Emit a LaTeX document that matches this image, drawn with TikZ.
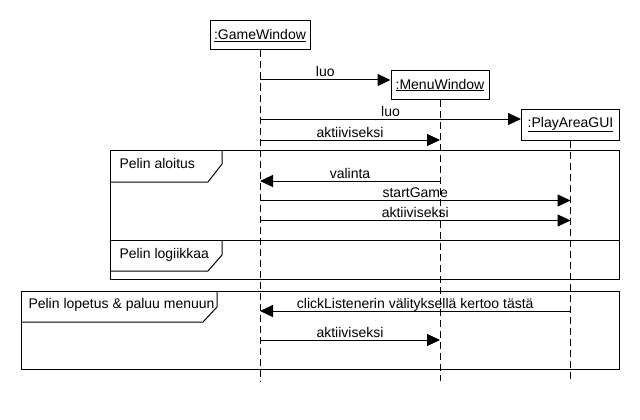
\documentclass[tikz,border=0pt]{standalone}
\usepackage{fontspec}
\setmainfont{Liberation Sans}
\usetikzlibrary{arrows.meta}
\begin{document}
\begin{tikzpicture}[x=1pt,y=-1pt,line width=1pt,
  font=\fontsize{14}{16}\selectfont,
  obj/.style={draw,fill=white,inner sep=0pt,minimum height=29pt},
  life/.style={dash pattern=on 7pt off 4pt},
  msg/.style={-{Triangle[length=13pt,width=12pt]}},
  lbl/.style={midway,anchor=base,yshift=3pt,inner sep=0pt},
  frm/.style={draw},
  flbl/.style={anchor=base west,inner sep=0pt}]
\fill[white] (0,0) rectangle (640,420);
\useasboundingbox (0,0) rectangle (640,420);

% frames
\draw[frm] (110,150) rectangle (619,279);
\draw[frm] (110,240) -- (619,240);
\draw[frm] (110,182) -- (208,182) -- (222,164) -- (222,150);
\draw[frm] (110,271) -- (208,271) -- (222,255) -- (222,240);
\draw[frm] (21,291) rectangle (619,369);
\draw[frm] (21,322) -- (203,322) -- (217,307) -- (217,291);
\node[flbl] (f1) at (119,168) {Pelin aloitus};
\node[flbl] (f2) at (119,258) {Pelin logiikkaa};
\node[flbl] (f3) at (28,308) {Pelin lopetus \& paluu menuun};

% objects
\node[obj,minimum width=100pt] (gw) at (260,35.5) {\underline{:GameWindow}};
\node[obj,minimum width=98pt] (mw) at (440,85) {\underline{:MenuWindow}};
\node[obj,minimum width=98pt,minimum height=31pt] (pa) at (570.5,124.5) {\underline{:PlayAreaGUI}};

% lifelines
\coordinate (gwE) at (260,381);
\coordinate (mwE) at (440,381);
\coordinate (paE) at (570.5,381);
\draw[life] (gw.south) -- (gwE);
\draw[life] (mw.south) -- (mwE);
\draw[life] (pa.south) -- (paE);

% message endpoints
\coordinate (a1) at (260,80);
\coordinate (a2) at (260,119);
\coordinate (a3) at (260,140);
\coordinate (b3) at (440,140);
\coordinate (a4) at (260,181);
\coordinate (b4) at (440,181);
\coordinate (a5) at (260,200.5);
\coordinate (c5) at (570.5,200.5);
\coordinate (a6) at (260,220.5);
\coordinate (c6) at (570.5,220.5);
\coordinate (a7) at (260,311);
\coordinate (c7) at (570.5,311);
\coordinate (a8) at (260,340);
\coordinate (b8) at (440,340);

\draw[msg] (a1) -- (mw.west |- a1) node[lbl] (l1) {luo};
\draw[msg] (a2) -- (pa.west |- a2) node[lbl] (l2) {luo};
\draw[msg] (a3) -- (b3) node[lbl] (l3) {aktiiviseksi};
\draw[msg] (b4) -- (a4) node[lbl] (l4) {valinta};
\draw[msg] (a5) -- (c5) node[lbl] (l5) {startGame};
\draw[msg] (a6) -- (c6) node[lbl] (l6) {aktiiviseksi};
\draw[msg] (c7) -- (a7) node[lbl] (l7) {clickListenerin välityksellä kertoo tästä};
\draw[msg] (a8) -- (b8) node[lbl] (l8) {aktiiviseksi};
\end{tikzpicture}
\end{document}
